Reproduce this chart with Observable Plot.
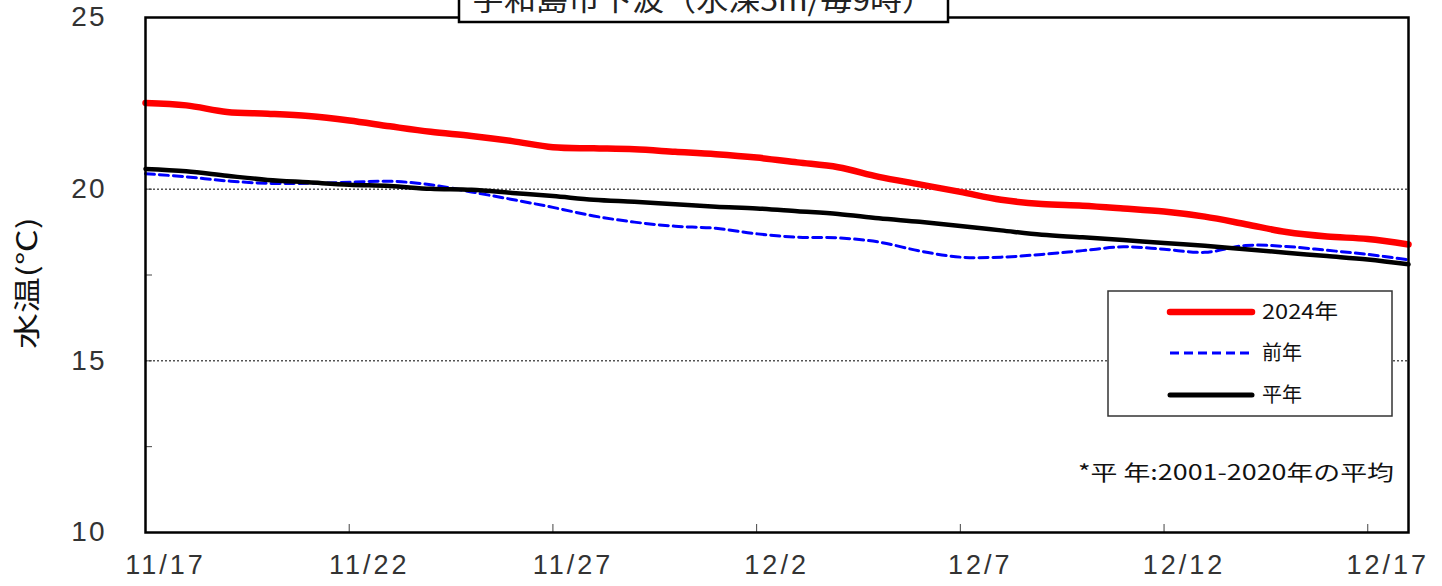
<!DOCTYPE html>
<html><head><meta charset="utf-8">
<script src="https://cdn.jsdelivr.net/npm/d3@7"></script>
<script src="https://cdn.jsdelivr.net/npm/@observablehq/plot@0.6"></script>
<style>body{margin:0;background:#fff;}</style>
</head><body><div id="chart"></div>
<script>
const days = ["2024-11-17","2024-11-18","2024-11-19","2024-11-20","2024-11-21","2024-11-22","2024-11-23","2024-11-24","2024-11-25","2024-11-26","2024-11-27","2024-11-28","2024-11-29","2024-11-30","2024-12-01","2024-12-02","2024-12-03","2024-12-04","2024-12-05","2024-12-06","2024-12-07","2024-12-08","2024-12-09","2024-12-10","2024-12-11","2024-12-12","2024-12-13","2024-12-14","2024-12-15","2024-12-16","2024-12-17","2024-12-18"];
const temp2024 = [22.51,22.44,22.25,22.20,22.13,22.00,21.83,21.67,21.55,21.40,21.22,21.19,21.16,21.09,21.02,20.92,20.78,20.64,20.36,20.14,19.92,19.69,19.57,19.52,19.44,19.35,19.20,18.98,18.75,18.62,18.55,18.39];
const tempPrev = [20.45,20.36,20.24,20.17,20.17,20.20,20.23,20.13,19.92,19.70,19.47,19.22,19.04,18.92,18.86,18.70,18.60,18.58,18.46,18.20,18.02,18.02,18.10,18.21,18.32,18.25,18.16,18.36,18.33,18.22,18.10,17.94];
const tempNorm = [20.59,20.52,20.39,20.27,20.20,20.13,20.09,20.01,19.98,19.89,19.80,19.69,19.63,19.56,19.49,19.44,19.36,19.28,19.15,19.05,18.93,18.80,18.67,18.60,18.52,18.43,18.35,18.25,18.15,18.05,17.95,17.81];
const xTickDays = ["2024-11-17","2024-11-22","2024-11-27","2024-12-02","2024-12-07","2024-12-12","2024-12-17"];
const yMajor = [10,15,20,25];
const yMinor = [12.5,17.5,22.5];
const gridValues = [15,20];
const seriesNames = ["2024年","前年","平年"];
const titleText = "宇和島市下波（水深5m/毎9時）";
const yLabel = "水温(℃)";
const noteText = "*平 年:2001-2020年の平均";

const parse = d3.utcParse("%Y-%m-%d");
const dates = days.map(parse);
const table = (vals) => dates.map((d, i) => ({date: d, v: vals[i]}));
const xTicks = xTickDays.map(parse);
const font = "'Noto Sans CJK JP', 'Noto Sans', sans-serif";
const numFont = "'Liberation Sans Narrow', 'Liberation Sans', sans-serif";

const chart = Plot.plot({
  width: 1442, height: 586,
  marginLeft: 145, marginRight: 34, marginTop: 17, marginBottom: 54,
  style: {fontFamily: font, background: "#fff", color: "#222"},
  x: {type: "utc", domain: [parse("2024-11-17"), parse("2024-12-18")]},
  y: {domain: [10, 25]},
  marks: [
    Plot.ruleY(gridValues, {stroke: "#000", strokeWidth: 1, strokeDasharray: "2,2"}),
    Plot.axisY(yMajor, {tickSize: 0, tickPadding: 39, fontSize: 28, fontFamily: numFont, label: null, fill: "#333"}),
    Plot.axisY(yMajor.concat(yMinor), {tickSize: -7, tickFormat: () => "", label: null, stroke: "#444"}),
    Plot.axisX(xTicks, {tickSize: -8, tickFormat: () => "", label: null, stroke: "#444"}),
    Plot.axisX(xTicks, {tickSize: 0, tickPadding: 22, fontSize: 27, fontFamily: numFont, dx: 20, label: null, fill: "#333", tickFormat: d3.utcFormat("%-m/%-d")}),
    Plot.line(table(tempPrev), {x: "date", y: "v", stroke: "#0000ff", strokeWidth: 3, strokeDasharray: "9,5", curve: "catmull-rom"}),
    Plot.line(table(tempNorm), {x: "date", y: "v", stroke: "#000", strokeWidth: 4.5, curve: "catmull-rom"}),
    Plot.line(table(temp2024), {x: "date", y: "v", stroke: "#ff0000", strokeWidth: 6.5, curve: "catmull-rom"}),
    Plot.frame({stroke: "#000", strokeWidth: 2.5})
  ]
});
document.getElementById("chart").appendChild(chart);

const svg = d3.select(chart);
svg.selectAll('g[aria-label="x-axis tick label"] text').style("letter-spacing", "3px");
svg.selectAll('g[aria-label="y-axis tick label"] text').style("letter-spacing", "2px");
// y axis title
svg.append("text").attr("transform", "translate(37,283) rotate(-90)")
  .attr("text-anchor", "middle").attr("font-size", 27).attr("font-family", font).attr("fill", "#111")
  .attr("textLength", 132).attr("lengthAdjust", "spacingAndGlyphs").text(yLabel);
// title box (clipped at top, as in the source)
svg.append("rect").attr("x", 459).attr("y", -20).attr("width", 489).attr("height", 42)
  .attr("fill", "#fff").attr("stroke", "#000").attr("stroke-width", 2.5);
svg.append("text").attr("x", 703).attr("y", 11).attr("text-anchor", "middle")
  .attr("font-size", 29).attr("font-family", font).attr("fill", "#222")
  .attr("textLength", 462).attr("lengthAdjust", "spacingAndGlyphs").text(titleText);
// legend
const lg = svg.append("g");
lg.append("rect").attr("x", 1108).attr("y", 291).attr("width", 284).attr("height", 125)
  .attr("fill", "#fff").attr("stroke", "#333").attr("stroke-width", 1.5);
const legendStyles = [
  {stroke: "#ff0000", w: 6.5, dash: null, y: 312, len: 76},
  {stroke: "#0000ff", w: 3, dash: "9,5", y: 353, len: 40},
  {stroke: "#000", w: 5, dash: null, y: 395, len: 40}
];
legendStyles.forEach((s, i) => {
  const l = lg.append("line").attr("x1", 1170).attr("x2", 1252).attr("y1", s.y).attr("y2", s.y)
    .attr("stroke", s.stroke).attr("stroke-width", s.w).attr("stroke-linecap", s.dash ? "butt" : "round");
  if (s.dash) l.attr("stroke-dasharray", s.dash);
  lg.append("text").attr("x", 1262).attr("y", s.y).attr("dy", "0.36em").attr("text-anchor", "start")
    .attr("font-size", 20).attr("font-family", font).attr("fill", "#111")
    .attr("textLength", s.len).attr("lengthAdjust", "spacingAndGlyphs").text(seriesNames[i]);
});
// note
svg.append("text").attr("x", 1078).attr("y", 472).attr("dy", "0.36em").attr("text-anchor", "start")
  .attr("font-size", 21).attr("font-family", font).attr("fill", "#111")
  .attr("textLength", 316).attr("lengthAdjust", "spacingAndGlyphs").text(noteText);
</script>
</body></html>
